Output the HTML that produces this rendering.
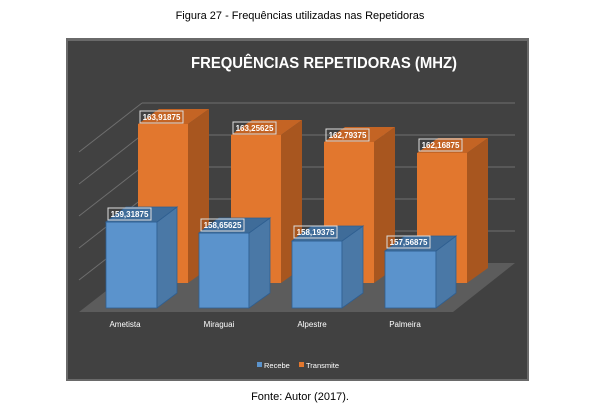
<!DOCTYPE html>
<html><head><meta charset="utf-8"><style>
body{margin:0;background:#fff;width:601px;height:407px;overflow:hidden}
svg{display:block}
</style></head><body>
<svg width="601" height="407" xmlns="http://www.w3.org/2000/svg" font-family="Liberation Sans, sans-serif">
<text x="300" y="19" font-size="11" text-anchor="middle" fill="#000">Figura 27 - Frequências utilizadas nas Repetidoras</text>
<rect x="66" y="38" width="463" height="343" fill="#6a6a6a"/>
<rect x="68" y="41" width="459" height="338" fill="#414141"/>
<text x="191" y="68" font-size="15.5" font-weight="bold" fill="#fff" textLength="266" lengthAdjust="spacingAndGlyphs">FREQUÊNCIAS REPETIDORAS (MHZ)</text>
<g stroke="#6e6e6e" stroke-width="1" fill="none">
<line x1="142" y1="103" x2="515" y2="103"/><line x1="142" y1="135" x2="515" y2="135"/>
<line x1="142" y1="167" x2="515" y2="167"/><line x1="142" y1="199" x2="515" y2="199"/>
<line x1="142" y1="231" x2="515" y2="231"/>
<line x1="142" y1="103" x2="79" y2="152"/><line x1="142" y1="135" x2="79" y2="184"/>
<line x1="142" y1="167" x2="79" y2="216"/><line x1="142" y1="199" x2="79" y2="248"/>
<line x1="142" y1="231" x2="79" y2="280"/>
</g>
<polygon points="142,263 515,263 453,312 79,312" fill="#5c5c5c"/>
<g>
<g fill="#e2772e"><rect x="138" y="124" width="50" height="159"/><rect x="231" y="135" width="50" height="148"/><rect x="324" y="142" width="50" height="141"/><rect x="417" y="153" width="50" height="130"/></g>
<g fill="#a8561f"><polygon points="188,124 209,109 209,268 188,283"/><polygon points="281,135 302,120 302,268 281,283"/><polygon points="374,142 395,127 395,268 374,283"/><polygon points="467,153 488,138 488,268 467,283"/></g>
<g fill="#c46424"><polygon points="138,124 159,109 209,109 188,124"/><polygon points="231,135 252,120 302,120 281,135"/><polygon points="324,142 345,127 395,127 374,142"/><polygon points="417,153 438,138 488,138 467,153"/></g>
</g>
<g>
<g fill="#5b93cc" stroke="#2f5f91" stroke-width="0.8"><rect x="106" y="222" width="51" height="86"/><rect x="199" y="233" width="50" height="75"/><rect x="292" y="241" width="50" height="67"/><rect x="385" y="251" width="51" height="57"/></g>
<g fill="#4a78a6" stroke="#2f5f91" stroke-width="0.8"><polygon points="157,222 177,207 177,293 157,308"/><polygon points="249,233 270,218 270,293 249,308"/><polygon points="342,241 363,226 363,293 342,308"/><polygon points="436,251 456,236 456,293 436,308"/></g>
<g fill="#3f6c99" stroke="#2f5f91" stroke-width="0.8"><polygon points="106,222 126,207 177,207 157,222"/><polygon points="199,233 219,218 270,218 249,233"/><polygon points="292,241 312,226 363,226 342,241"/><polygon points="385,251 405,236 456,236 436,251"/></g>
</g>
<g font-size="8" font-weight="bold" fill="#fff" text-anchor="middle">
<g fill="none" stroke="#ddd" stroke-width="1">
<rect x="140" y="111" width="43" height="12"/><rect x="233" y="122" width="43" height="12"/><rect x="326" y="129" width="43" height="12"/><rect x="419" y="139" width="43" height="12"/>
<rect x="108" y="208" width="43" height="12"/><rect x="201" y="219" width="43" height="12"/><rect x="294" y="226" width="43" height="12"/><rect x="387" y="236" width="43" height="12"/>
</g>
<text x="161.5" y="120">163,91875</text><text x="254.5" y="131">163,25625</text><text x="347.5" y="138">162,79375</text><text x="440.5" y="148">162,16875</text>
<text x="129.5" y="217">159,31875</text><text x="222.5" y="228">158,65625</text><text x="315.5" y="235">158,19375</text><text x="408.5" y="245">157,56875</text>
</g>
<g font-size="8" fill="#fff" text-anchor="middle">
<text x="125" y="327">Ametista</text><text x="219" y="327">Miraguai</text><text x="312" y="327">Alpestre</text><text x="405" y="327">Palmeira</text>
</g>
<rect x="257" y="362" width="5" height="5" fill="#5b93cc"/><text x="264" y="368" font-size="7.5" fill="#fff">Recebe</text>
<rect x="299" y="362" width="5" height="5" fill="#e2772e"/><text x="306" y="368" font-size="7.5" fill="#fff">Transmite</text>
<text x="300" y="400" font-size="11" text-anchor="middle" fill="#000">Fonte: Autor (2017).</text>
</svg>
</body></html>
